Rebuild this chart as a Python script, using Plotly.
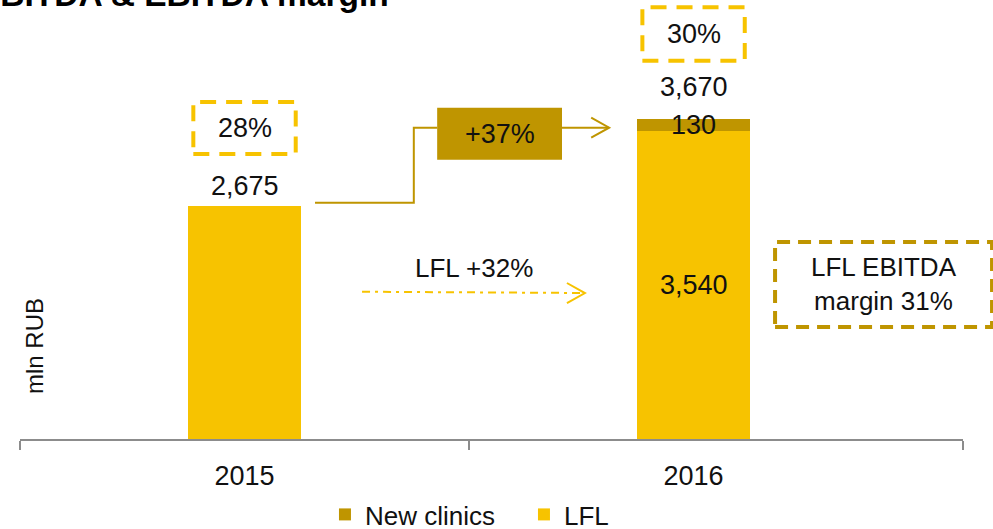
import plotly.graph_objects as go

# ---- data ----
years = ["2015", "2016"]
xpos = [0, 1]
lfl = [2675, 3540]
new_clinics = [0, 130]
totals = [2675, 3670]
margins = ["28%", "30%"]
growth_total = "+37%"
growth_lfl = "LFL +32%"
lfl_margin = "LFL EBITDA<br>margin 31%"

YELLOW = "#F7C300"
DARK = "#BF9500"
TXT = "#111111"
FONT = "Liberation Sans, Arial, sans-serif"
FN = 27   # numbers
FT = 26   # words

fig = go.Figure()
fig.add_bar(x=xpos, y=lfl, name="LFL", marker=dict(color=YELLOW, line=dict(width=0)), width=0.25)
fig.add_bar(x=xpos, y=new_clinics, name="New clinics", marker=dict(color=DARK, line=dict(width=0)), width=0.25)

ann = []
shapes = []

# total labels above bars
ann.append(dict(x=xpos[0], y=totals[0], text=f"{totals[0]:,}", yshift=20))
ann.append(dict(x=xpos[1], y=totals[1], text=f"{totals[1]:,}", yshift=32))
# segment labels
ann.append(dict(x=xpos[1], y=lfl[1] + new_clinics[1] / 2, text=f"{new_clinics[1]:,}", yshift=0))
ann.append(dict(x=xpos[1], y=lfl[1] / 2, text=f"{lfl[1]:,}", yshift=0))

# margin boxes
for i, (c, ylo, yhi) in enumerate([(xpos[0], 3272, 3869), (xpos[1], 4343, 4956)]):
    shapes.append(dict(type="rect", xref="x", yref="y", x0=c - 0.114, x1=c + 0.114, y0=ylo, y1=yhi,
                       line=dict(color=YELLOW, width=4, dash="16px,10px")))
    ann.append(dict(x=c, y=(ylo + yhi) / 2, text=margins[i]))

# +37% box and elbow arrow
shapes.append(dict(type="rect", xref="x", yref="y", x0=0.429, x1=0.707, y0=3207, y1=3804,
                   fillcolor=DARK, line=dict(width=0), layer="above"))
ann.append(dict(x=0.568, y=3505, text=growth_total))
shapes.append(dict(type="path", xref="x", yref="y", path="M 0.157,2713 H 0.377 V 3574 H 0.429",
                   line=dict(color=DARK, width=2)))
shapes.append(dict(type="path", xref="x", yref="y", path="M 0.707,3574 H 0.812",
                   line=dict(color=DARK, width=2)))
shapes.append(dict(type="path", xref="x", yref="y", path="M 0.772,3689 L 0.812,3574 L 0.772,3459",
                   line=dict(color=DARK, width=2)))

# LFL growth dash-dot arrow
ann.append(dict(x=0.512, y=1963, text=growth_lfl, font_size=FT))
shapes.append(dict(type="line", xref="x", yref="y", x0=0.2617, y0=1691, x1=0.758, y1=1676,
                   line=dict(color=YELLOW, width=2, dash="8px,5px,3px,5px")))
shapes.append(dict(type="path", xref="x", yref="y", path="M 0.718,1791 L 0.758,1676 L 0.718,1561",
                   line=dict(color=YELLOW, width=2)))

# LFL EBITDA margin box
shapes.append(dict(type="rect", xref="paper", yref="y", x0=0.8007, x1=1.0308, y0=1286, y1=2262,
                   line=dict(color=DARK, width=4, dash="13px,8px")))
ann.append(dict(xref="paper", x=0.916, y=1774, text=lfl_margin, font_size=FT))

annotations = []
for a in ann:
    fs = a.pop("font_size", FN)
    d = dict(xref="x", yref="y", showarrow=False, font=dict(family=FONT, size=fs, color=TXT),
             xanchor="center", yanchor="middle")
    d.update(a)
    annotations.append(d)

# axis unit label
annotations.append(dict(xref="paper", yref="paper", x=0.016, y=0.212, text="mln RUB", textangle=-90,
                        showarrow=False, font=dict(family=FONT, size=24, color=TXT),
                        xanchor="center", yanchor="middle"))
# title (cut at top in the original)
annotations.append(dict(xref="paper", yref="paper", x=-0.047, y=1, yshift=6,
                        text="<b>EBITDA &amp; EBITDA margin</b>", showarrow=False,
                        font=dict(family=FONT, size=33.5, color="#000000"),
                        xanchor="left", yanchor="middle"))

fig.update_layout(
    width=993, height=529,
    margin=dict(l=20, r=30, t=0, b=90, autoexpand=False),
    barmode="stack",
    plot_bgcolor="white", paper_bgcolor="white",
    showlegend=True,
    legend=dict(orientation="h", x=0.3234, xanchor="left", y=-0.172, yanchor="middle",
                entrywidth=154, traceorder="reversed",
                font=dict(family=FONT, size=FT, color=TXT)),
    xaxis=dict(range=[-0.5, 1.6], tickvals=xpos, ticktext=years, ticks="",
               showline=True, linecolor="#8c8c8c", linewidth=1.5, showgrid=False, zeroline=False,
               tickfont=dict(family=FONT, size=FN, color=TXT), ticklabelstandoff=12,
               minor=dict(tickvals=[-0.5, 0.5, 1.6], ticks="outside", ticklen=9,
                          tickcolor="#8c8c8c", tickwidth=1.5)),
    yaxis=dict(range=[0, 5040], visible=False),
    annotations=annotations,
    shapes=shapes,
)

fig.write_html("out.html", config={"displayModeBar": False},
               post_script="document.body.style.margin='0';")
